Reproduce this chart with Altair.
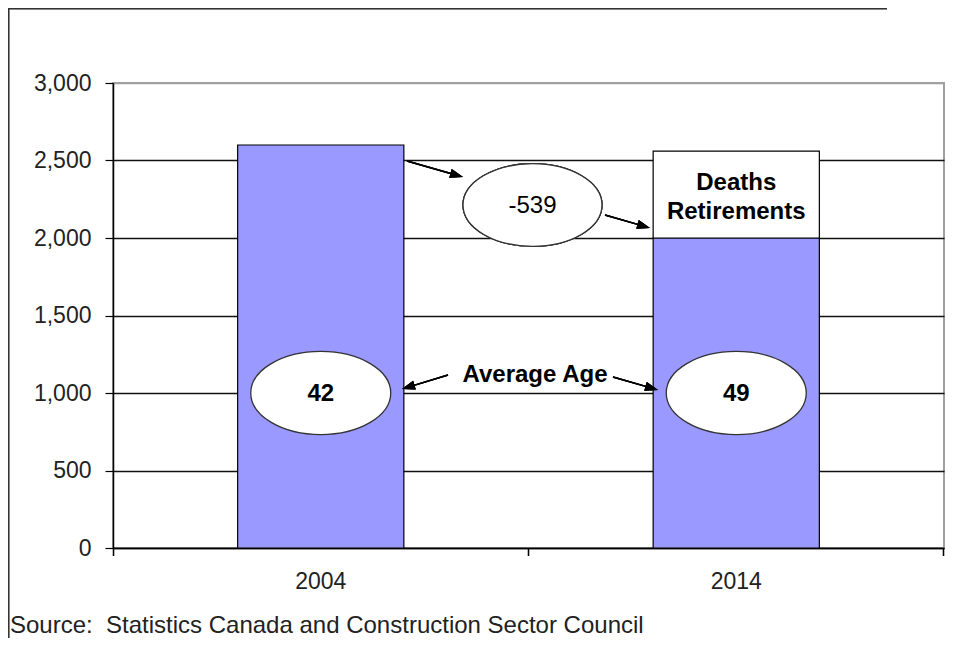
import math
import altair as alt
import pandas as pd

# ---------------- data ----------------
YEARS = ["2004", "2014"]
WORKFORCE = [2600, 2000]          # blue bars
EXITS_TOP = 2560                  # top of the "Deaths / Retirements" box on 2014
AVG_AGE = [42, 49]
NET_CHANGE = "-539"
Y_TICKS = [0, 500, 1000, 1500, 2000, 2500, 3000]
BOX_LINES = ["Deaths", "Retirements"]
AGE_LABEL = "Average Age"
SOURCE = "Source:\u00a0 Statistics Canada and Construction Sector Council"

bars = pd.DataFrame({
    "year": YEARS + [YEARS[1]],
    "segment": ["Workforce", "Workforce", "Deaths Retirements"],
    "start": [0, 0, WORKFORCE[1]],
    "end": WORKFORCE + [EXITS_TOP],
})
ages = pd.DataFrame({"year": YEARS, "age": AVG_AGE})

# ---------------- layout ----------------
W, H = 831, 465
FONT = "Liberation Sans"
ELLIPSE = "M-1,0A1,0.594,0,1,1,1,0A1,0.594,0,1,1,-1,0Z"
ARROW_HEAD = "M1,0L-1,-0.7L-1,0.7Z"
HEAD_LEN = 13
y1000 = H * (1 - 1000 / 3000)

x_enc = alt.X(
    "year:N",
    sort=YEARS,
    scale=alt.Scale(domain=YEARS, paddingInner=0.6, paddingOuter=0.3),
    axis=alt.Axis(
        title=None, labelAngle=0, ticks=False, domainColor="black", domainWidth=1.5,
        labelFontSize=23, labelPadding=22, labelColor="#222", grid=False,
        labelFont=FONT,
    ),
)

base = alt.Chart(bars)

bar_layer = base.mark_bar(stroke="black", strokeWidth=1.2).encode(
    x=x_enc,
    y=alt.Y(
        "start:Q",
        scale=alt.Scale(domain=[0, 3000], nice=False),
        axis=alt.Axis(
            title=None, values=Y_TICKS, format=",.0f", tickSize=8,
            tickColor="black", tickWidth=1.2, domainColor="black", domainWidth=1.5,
            labelFontSize=23, labelPadding=14, labelColor="#222", labelFont=FONT,
            grid=True, gridWidth=1.5,
            gridColor={"condition": {"test": "datum.value === 3000", "value": "#a0a0a0"},
                       "value": "#111111"},
        ),
    ),
    y2="end:Q",
    color=alt.Color(
        "segment:N",
        scale=alt.Scale(domain=["Workforce", "Deaths Retirements"], range=["#9999ff", "#ffffff"]),
        legend=None,
    ),
)

# category-boundary tick marks on the x axis (Excel style)
x_ticks = [
    alt.Chart(bars).mark_rule(color="black", strokeWidth=1.2).encode(
        x=alt.value(px), y=alt.value(H), y2=alt.value(H + 8))
    for px in (0.5, W / 2, W - 0.5)
]

age_ellipse = alt.Chart(ages).mark_point(
    shape=ELLIPSE, size=140 ** 2, fill="white", stroke="#333333",
    strokeWidth=1.3, opacity=1, fillOpacity=1,
).encode(x=alt.X("year:N", sort=YEARS), y=alt.value(y1000))

age_text = alt.Chart(ages).mark_text(
    font=FONT, fontSize=24, fontWeight="bold", color="black", baseline="middle",
).encode(x=alt.X("year:N", sort=YEARS), y=alt.value(y1000 + 1), text="age:N")

box_text = [
    alt.Chart(pd.DataFrame({"year": [YEARS[1]], "t": [line]})).mark_text(
        font=FONT, fontSize=24, fontWeight="bold", color="black", baseline="middle",
    ).encode(x=alt.X("year:N", sort=YEARS), y=alt.value(yy), text="t:N")
    for line, yy in zip(BOX_LINES, [100, 129])
]

net_ellipse = alt.Chart(bars).mark_point(
    shape=ELLIPSE, size=139 ** 2, fill="white", stroke="#333333",
    strokeWidth=1.3, opacity=1, fillOpacity=1,
).encode(x=alt.value(419.5), y=alt.value(122))

net_text = alt.Chart(pd.DataFrame({"t": [NET_CHANGE]})).mark_text(
    font=FONT, fontSize=24, color="black", baseline="middle",
).encode(x=alt.value(419.5), y=alt.value(123), text="t:N")

avg_text = alt.Chart(pd.DataFrame({"t": [AGE_LABEL]})).mark_text(
    font=FONT, fontSize=24, fontWeight="bold", color="black", baseline="middle",
).encode(x=alt.value(422), y=alt.value(292), text="t:N")

# arrows (start -> tip), plot-area pixels
ARROWS = [((294, 78), (350, 94)), ((492, 132), (537, 145)),
          ((335, 292), (289, 306)), ((500, 294), (545, 307))]
arrow_layers = []
for (sx, sy), (tx, ty) in ARROWS:
    dx, dy = tx - sx, ty - sy
    ln = math.hypot(dx, dy)
    ux, uy = dx / ln, dy / ln
    cx, cy = tx - ux * HEAD_LEN / 2, ty - uy * HEAD_LEN / 2
    ang = math.degrees(math.atan2(dy, dx)) % 360
    arrow_layers.append(
        alt.Chart(bars).mark_rule(color="black", strokeWidth=1.4).encode(
            x=alt.value(sx), x2=alt.value(cx), y=alt.value(sy), y2=alt.value(cy))
    )
    arrow_layers.append(
        alt.Chart(bars).mark_point(
            shape=ARROW_HEAD, size=HEAD_LEN ** 2, filled=True, color="black", opacity=1,
        ).encode(x=alt.value(cx), y=alt.value(cy), angle=alt.value(ang))
    )

# outer frame
frame_left = alt.Chart(bars).mark_rule(color="#333333", strokeWidth=1.5).encode(
    x=alt.value(-104.5), y=alt.value(-75), y2=alt.value(H + 95))
frame_top = alt.Chart(bars).mark_rule(color="#333333", strokeWidth=1.5).encode(
    x=alt.value(-105), x2=alt.value(774), y=alt.value(-74.5))

source_text = alt.Chart(pd.DataFrame({"t": [SOURCE]})).mark_text(
    font=FONT, fontSize=24, color="#222", align="left", baseline="alphabetic",
).encode(x=alt.value(-103), y=alt.value(H + 85), text="t:N")

chart = alt.layer(
    bar_layer, *x_ticks, age_ellipse, age_text, *box_text, net_ellipse, net_text, avg_text,
    *arrow_layers, frame_left, frame_top, source_text,
).properties(
    width=W, height=H,
    autosize=alt.AutoSizeParams(type="none"),
    padding={"left": 105, "top": 75, "right": 1, "bottom": 90},
    background="white",
).configure_view(stroke="#a0a0a0", strokeWidth=2)

chart.save("out.html", embed_options={"renderer": "svg", "actions": False})
